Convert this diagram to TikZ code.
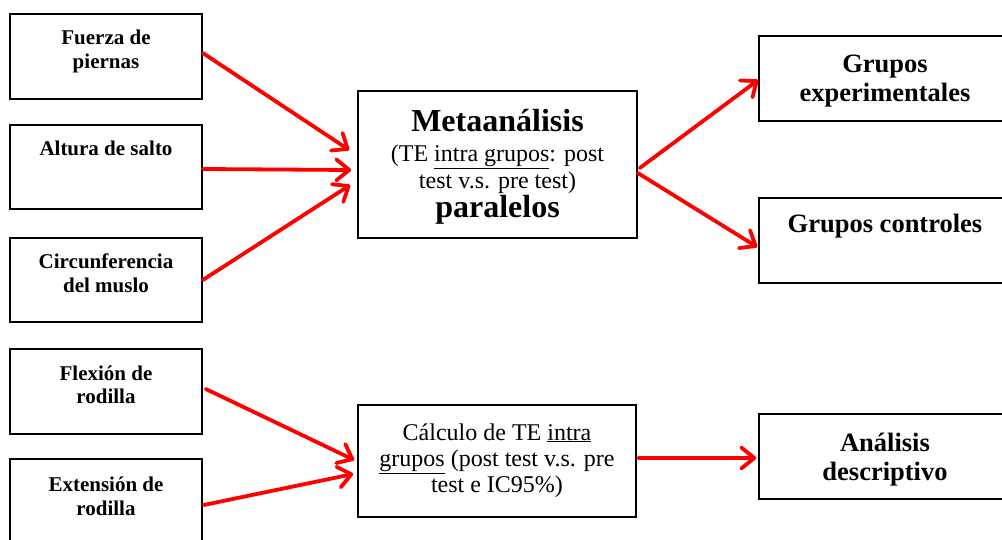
\documentclass[tikz,border=0pt]{standalone}
\usepackage{fontspec}
\setmainfont{Liberation Serif}
\usetikzlibrary{arrows.meta,calc}
\newcommand\lns[1]{\begin{tabular}[t]{@{}c@{}}#1\end{tabular}}
\begin{document}
\begin{tikzpicture}[x=1pt,y=-1pt,
  box/.style={draw=black,line width=1.6pt,inner sep=0pt},
  sm/.style={font=\fontsize{21}{24}\selectfont\bfseries,anchor=base,inner sep=0pt},
  big/.style={font=\fontsize{32}{36}\selectfont\bfseries,anchor=base,inner sep=0pt},
  body/.style={font=\fontsize{24}{27}\selectfont,anchor=base,inner sep=0pt},
  bodyb/.style={font=\fontsize{24}{26.3}\selectfont,anchor=base,inner sep=0pt},
  rt/.style={font=\fontsize{26.5}{29}\selectfont\bfseries,anchor=base,inner sep=0pt},
  arr/.style={draw=red,line width=3.8pt,line cap=round,
    -{Straight Barb[length=13pt,width=21pt,round]}}]
\clip (0,0) rectangle (1002,540);
% left boxes
\node[box,minimum width=192pt,minimum height=85pt] (b1) at (106,56.5) {};
\node[box,minimum width=192pt,minimum height=84pt] (b2) at (106,167) {};
\node[box,minimum width=192pt,minimum height=84pt] (b3) at (106,280) {};
\node[box,minimum width=192pt,minimum height=85pt] (b4) at (106,391.5) {};
\node[box,minimum width=192pt,minimum height=101pt] (b5) at (106,509.5) {};
\node[sm] (t1) at (106,45) {\lns{Fuerza de\\piernas}};
\node[sm] (t2) at (106,156) {\lns{Altura de salto}};
\node[sm] (t3) at (106,268.3) {\lns{Circunferencia\\del muslo}};
\node[sm] (t4) at (106,380) {\lns{Flexión de\\rodilla}};
\node[sm] (t5) at (106,491) {\lns{Extensión de\\rodilla}};
% center boxes
\node[box,minimum width=279pt,minimum height=147pt] (c1) at (497.5,164.5) {};
\node[big] (c1a) at (497.5,131.5) {Metaanálisis};
\node[body] (c1b) at (497.5,161.5) {\lns{(TE \underline{intra grupos}: post\\test v.s. pre test)}};
\node[big] (c1c) at (497.5,218) {paralelos};
\node[box,minimum width=278pt,minimum height=112pt] (c2) at (497,461) {};
\node[bodyb] (c2a) at (497,440) {\lns{Cálculo de TE \underline{intra}\\\underline{grupos} (post test v.s. pre\\test e IC95\%)}};
% right boxes
\node[box,minimum width=252pt,minimum height=85pt] (r1) at (885,78.5) {};
\node[box,minimum width=252pt,minimum height=85pt] (r2) at (885,240.5) {};
\node[box,minimum width=252pt,minimum height=85pt] (r3) at (885,456.5) {};
\node[rt] (s1) at (885,72.7) {\lns{Grupos\\experimentales}};
\node[rt] (s2) at (885,232.7) {\lns{Grupos controles}};
\node[rt] (s3) at (885,451.7) {\lns{Análisis\\descriptivo}};
% arrows
\draw[arr] ($(b1.east)+(0,-3.5)$) -- ($(c1.west)+(-8,-14.5)$);
\draw[arr] ($(b2.east)+(0,2)$) -- ($(c1.west)+(-6,5.5)$);
\draw[arr] (b3.east) -- ($(c1.west)+(-7,20.5)$);
\draw[arr] ($(b4.east)+(3,-2.5)$) -- ($(c2.west)+(-3,-1)$);
\draw[arr] ($(b5.east)+(1,-4.5)$) -- ($(c2.west)+(-4,13)$);
\draw[arr] ($(c1.east)+(2,3.5)$) -- ($(r1.west)+(0,1.5)$);
\draw[arr] ($(c1.east)+(0,8.5)$) -- ($(r2.west)+(-1,6.5)$);
\draw[arr] ($(c2.east)+(2,-3)$) -- ($(r3.west)+(-2,1.5)$);
\end{tikzpicture}
\end{document}
